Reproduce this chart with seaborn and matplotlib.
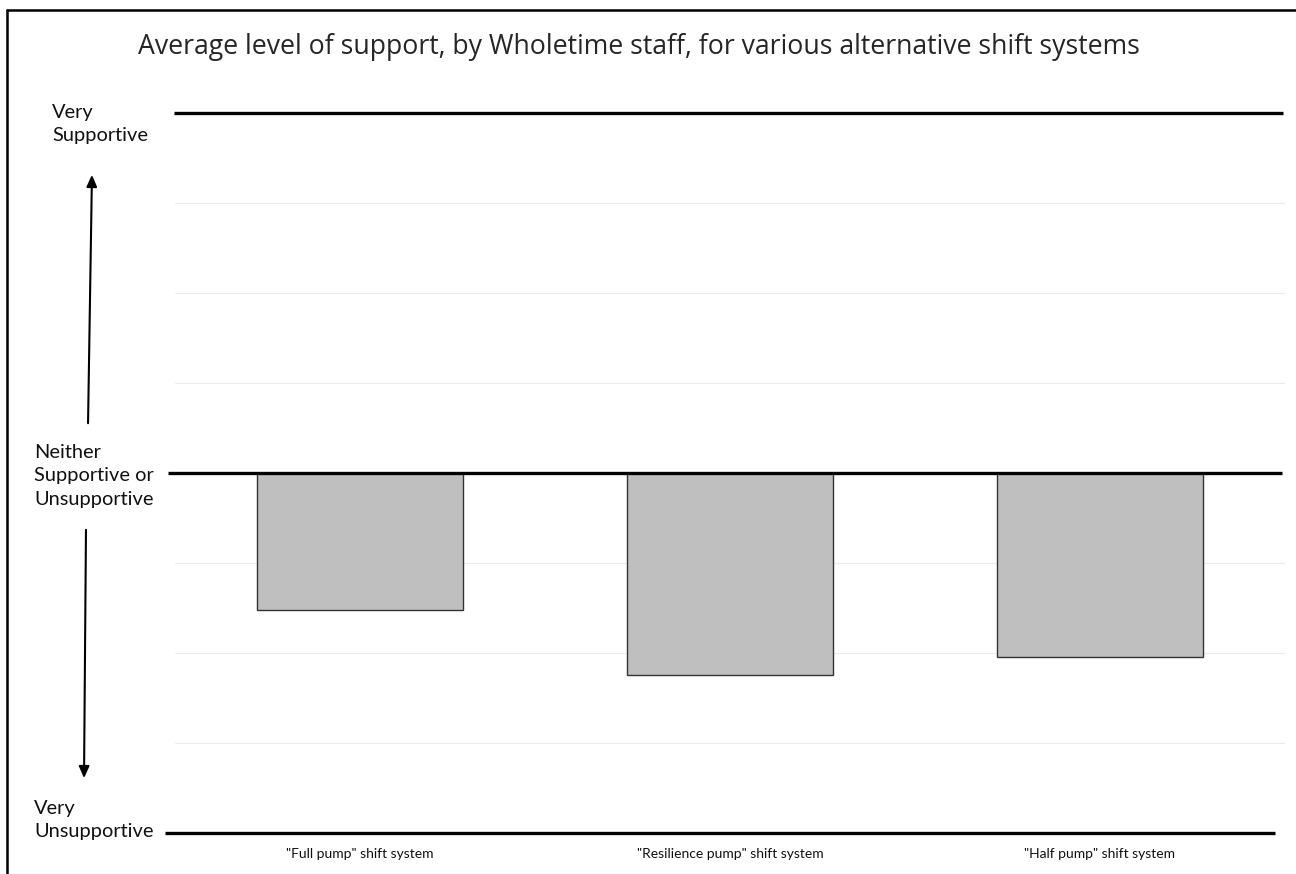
import matplotlib
matplotlib.use("Agg")
import matplotlib.pyplot as plt
from matplotlib.lines import Line2D
from matplotlib.patches import FancyArrowPatch
import seaborn as sns
import pandas as pd

# Survey results: average support score on a -2 (very unsupportive) .. +2 (very supportive) scale
systems = ['"Full pump" shift system', '"Resilience pump" shift system', '"Half pump" shift system']
avg_support = [-0.76, -1.12, -1.02]
scale_labels = ["Very\nUnsupportive", "Neither\nSupportive or\nUnsupportive", "Very\nSupportive"]
scale_values = [-2, 0, 2]
title = "Average level of support, by Wholetime staff, for various alternative shift systems"

sns.set_theme(style="white")
plt.rcParams["font.family"] = ["Lato", "DejaVu Sans"]

df = pd.DataFrame({"system": systems, "support": avg_support})

W, H = 1296, 874
fig = plt.figure(figsize=(W / 100, H / 100), dpi=100)
ax = fig.add_axes([175 / W, 1 - 833 / H, (1285 - 175) / W, (833 - 113) / H])

# light gridlines at half steps
for g in [-1.5, -1.0, -0.5, 0.5, 1.0, 1.5]:
    ax.axhline(g, color="#ececec", lw=0.8, zorder=0)

sns.barplot(data=df, x="system", y="support", color="#bfbfbf", width=0.555,
            edgecolor="#333333", linewidth=1.0, saturation=1, ax=ax, zorder=2)

ax.set_ylim(-2, 2)
ax.set_xlim(-0.5, 2.5)
for s in ax.spines.values():
    s.set_visible(False)
ax.set_yticks([])
ax.set_xlabel("")
ax.set_ylabel("")
ax.tick_params(axis="x", length=0, pad=11, labelsize=10, labelcolor="#111111")

# heavy reference lines at the scale anchors, reaching slightly past the plot area
xspans = {2: (174, 1283), 0: (168, 1282), -2: (165, 1275)}
for v in scale_values:
    x0, x1 = xspans[v]
    ax.axhline(v, xmin=(x0 - 175) / 1110, xmax=(x1 - 175) / 1110, color="black",
               lw=2.4, clip_on=False, zorder=3, solid_capstyle="butt")

# scale labels on the left
label_pos = {2: (52, 124), 0: (34, 476), -2: (34, 820)}
for lab, v in zip(scale_labels, scale_values):
    x, y = label_pos[v]
    fig.text(x / W, 1 - y / H, lab, ha="left", va="center", fontsize=14.4,
             color="#111111", linespacing=1.45)

# direction arrows
arrowprops = dict(arrowstyle="-|>,head_length=0.5,head_width=0.22", color="black",
                  lw=1.5, mutation_scale=14)
fig.add_artist(FancyArrowPatch((88 / W, 1 - 426 / H), (92 / W, 1 - 172 / H),
                               transform=fig.transFigure, **arrowprops))
fig.add_artist(FancyArrowPatch((86 / W, 1 - 527 / H), (84 / W, 1 - 781 / H),
                               transform=fig.transFigure, **arrowprops))

fig.text(639 / W, 1 - 47 / H, title, ha="center", va="center", fontsize=19.2,
         fontfamily=["Open Sans", "DejaVu Sans"], fontweight="normal", color="#262626")

# frame edges
fig.add_artist(Line2D([7 / W, 1], [1 - 10 / H, 1 - 10 / H], color="black", lw=1.8,
                      transform=fig.transFigure))
fig.add_artist(Line2D([7 / W, 7 / W], [0, 1 - 10 / H], color="black", lw=1.8,
                      transform=fig.transFigure))

fig.savefig("out.png", dpi=100)
